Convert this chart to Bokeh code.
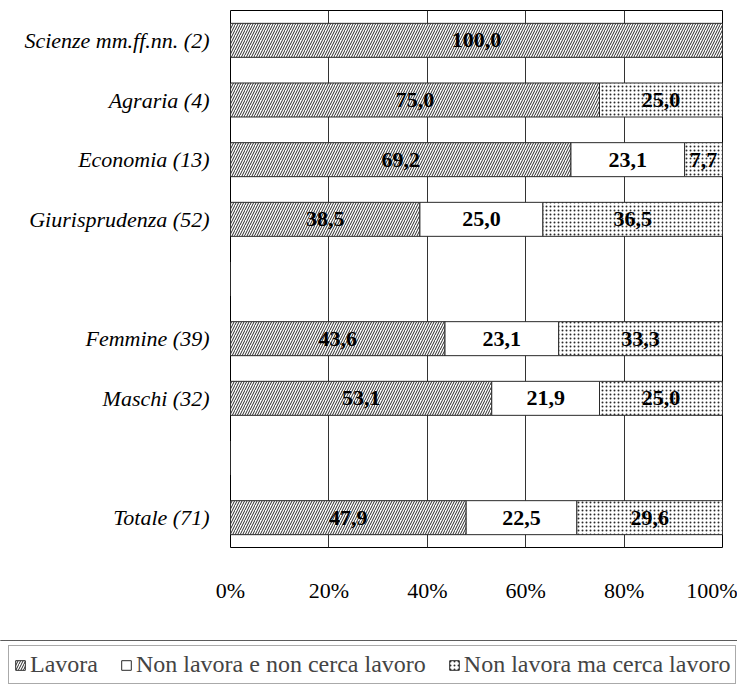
from bokeh.plotting import figure
from bokeh.models import FactorRange, ColumnDataSource, Legend, LegendItem, FixedTicker, CustomJSTickFormatter
from bokeh.layouts import column
from bokeh.core.properties import value
from bokeh.embed import file_html
from bokeh.resources import INLINE

categories = ["Scienze mm.ff.nn. (2)", "Agraria (4)", "Economia (13)", "Giurisprudenza (52)",
              " ", "Femmine (39)", "Maschi (32)", "  ", "Totale (71)"]
lavora = [100.0, 75.0, 69.2, 38.5, 0, 43.6, 53.1, 0, 47.9]
non_cerca = [0.0, 0.0, 23.1, 25.0, 0, 23.1, 21.9, 0, 22.5]
cerca = [0.0, 25.0, 7.7, 36.5, 0, 33.3, 25.0, 0, 29.6]
series_names = ["Lavora", "Non lavora e non cerca lavoro", "Non lavora ma cerca lavoro"]
x_ticks = [0, 20, 40, 60, 80, 100]

FONT = "Liberation Serif"
LINE = "#2a2a2a"
patterns = ["/", " ", "."]
scales = [5, 12, 4]
weights = [1, 1, 1.2]

p = figure(y_range=FactorRange(*reversed(categories)), x_range=(0, 100),
           frame_width=492, frame_height=537,
           min_border_left=230, min_border_right=15, min_border_top=10, min_border_bottom=93,
           output_backend="svg", toolbar_location=None)
p.frame_align = False

src = ColumnDataSource(dict(cat=categories, lavora=lavora, non_cerca=non_cerca, cerca=cerca))
stack = ["lavora", "non_cerca", "cerca"]
renderers = p.hbar_stack(stack, y="cat", height=0.57, source=src,
                         fill_color="white", line_color=LINE, line_width=1,
                         hatch_pattern=patterns, hatch_color=LINE,
                         hatch_scale=scales, hatch_weight=weights)

# value labels centred in each segment
lx, ly, lt = [], [], []
for i, c in enumerate(categories):
    left = 0.0
    for v in (lavora[i], non_cerca[i], cerca[i]):
        if v > 0:
            lx.append(left + v / 2)
            ly.append(c)
            lt.append(f"{v:.1f}".replace(".", ","))
        left += v
p.text(x=lx, y=ly, text=lt, text_align="center", text_baseline="middle",
       text_font=value(FONT), text_font_style="bold", text_font_size="22px", text_color="black")

p.outline_line_color = "black"
p.outline_line_width = 1
p.ygrid.grid_line_color = None
p.xgrid.grid_line_color = "#333333"
p.xgrid.ticker = FixedTicker(ticks=x_ticks)
p.xaxis.ticker = FixedTicker(ticks=x_ticks)
p.xaxis.formatter = CustomJSTickFormatter(code="return tick + '%';")
for ax in (p.xaxis[0], p.yaxis[0]):
    ax.axis_line_color = None
    ax.major_tick_line_color = None
    ax.minor_tick_line_color = None
    ax.major_label_text_font = FONT
    ax.major_label_text_color = "black"
p.xaxis.major_label_text_font_size = "22px"
p.xaxis.major_label_standoff = 24
p.yaxis.major_label_text_font_size = "22px"
p.yaxis.major_label_text_font_style = "italic"
p.yaxis.major_label_standoff = 15

# legend in its own strip below the chart
lg = figure(width=737, height=46, x_range=(0, 1), y_range=(0, 1),
            min_border=0, x_axis_type=None, y_axis_type=None,
            output_backend="svg", toolbar_location=None)
lg.frame_align = False
lg.outline_line_color = None
lg.grid.grid_line_color = None
# swatch renderers sit outside the visible range; they only feed the legend
swatch = ColumnDataSource(dict(y=[5], left=[0], right=[1]))
dummies = [lg.hbar(y="y", left="left", right="right", height=0.5, source=swatch,
                   fill_color="white", line_color=LINE, line_width=1,
                   hatch_pattern=pt, hatch_color=LINE, hatch_scale=sc, hatch_weight=w)
           for pt, sc, w in zip(patterns, scales, weights)]
legend = Legend(items=[LegendItem(label=n, renderers=[r]) for n, r in zip(series_names, dummies)],
                orientation="horizontal", location=(8, 2),
                label_text_font=FONT, label_text_font_size="24px",
                glyph_width=12, glyph_height=12, label_standoff=4, spacing=22,
                padding=5, margin=0, border_line_color="#555555", border_line_width=1,
                background_fill_alpha=1)
lg.add_layout(legend, "center")

open("out.html", "w").write(file_html(column(p, lg, spacing=0), INLINE))
